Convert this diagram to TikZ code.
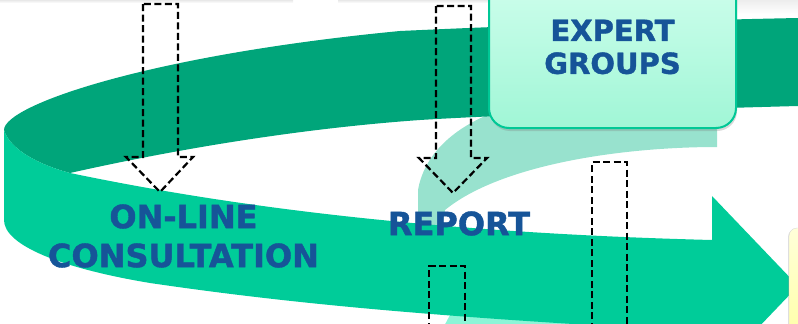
\documentclass[tikz,border=0pt]{standalone}
\usepackage{fontspec}
\setmainfont{DejaVu Sans}[BoldFeatures={FakeBold=1.3}]
\usetikzlibrary{shadows}
\definecolor{bandlight}{RGB}{0,204,153}
\definecolor{banddark}{RGB}{0,165,122}
\definecolor{swoosh}{RGB}{152,226,206}
\definecolor{aqua}{RGB}{140,245,215}
\definecolor{labelblue}{RGB}{22,84,152}
\definecolor{boxedge}{RGB}{0,200,150}
\begin{document}
\begin{tikzpicture}[x=1pt,y=-1pt,
    lbl/.style={text=labelblue,font=\bfseries\fontsize{32}{39}\selectfont,align=center,inner sep=0pt},
    dasharrow/.style={draw=black,line width=2.2pt,dash pattern=on 7pt off 3.5pt}]
  \useasboundingbox (0,0) rectangle (798,324);
  \begin{scope}
    \clip (0,0) rectangle (798,324);
    % shadows of the boxes above
    \shade[top color=black!9,bottom color=white] (0,0) rectangle (293,3);
    \shade[top color=black!9,bottom color=white] (338,0) rectangle (489,3);
    \shade[top color=black!7,bottom color=white] (736,0) rectangle (798,14);
    % swoosh behind the bands
    \fill[swoosh] (717,100) -- (717,147) .. controls (620,147) and (500,165) .. (445,210)
          -- (440,240) -- (418,240) -- (418,190)
          .. controls (425,150) and (460,125) .. (495,112) -- cycle;
    \fill[aqua] (442,330) -- (450,315) -- (600,315) -- (600,330) -- cycle;
    % back of the ring
    \fill[banddark] (4,130) .. controls (4,105) and (150,55) .. (400,31)
          .. controls (550,24) and (700,20) .. (798,18) -- (798,106)
          .. controls (650,110) and (500,115) .. (420,120)
          .. controls (280,130) and (150,155) .. (70,173)
          .. controls (40,165) and (10,150) .. (4,130) -- cycle;
    % front of the ring with the arrow head
    \fill[bandlight] (4,130) .. controls (10,150) and (40,165) .. (70,173)
          .. controls (200,200) and (400,232) .. (712,240)
          -- (712,196) -- (798,286) -- (712,376) -- (712,332)
          .. controls (450,318) and (300,305) .. (150,283)
          .. controls (60,268) and (4,245) .. (4,220) -- cycle;
    % next box on the right
    \draw[draw=black!15,top color=yellow!15,bottom color=yellow!45,rounded corners=8pt,
          drop shadow={opacity=0.25,shadow xshift=-1pt,shadow yshift=-1pt}]
          (789,228) rectangle (860,400);
    \node[draw=boxedge,line width=2pt,rounded corners=20pt,top color={rgb,255:red,210;green,255;blue,238},
          bottom color={rgb,255:red,160;green,246;blue,214},minimum width=247pt,minimum height=162pt,
          drop shadow={opacity=0.3,shadow xshift=1pt,shadow yshift=-3pt},
          text=labelblue,font=\bfseries\fontsize{29}{33}\selectfont,align=center,inner sep=0pt]
          (expert) at (612.5,47) {EXPERT\\GROUPS};
    \node[lbl] (online) at (183.5,236) {ON-LINE\\CONSULTATION};
    \node[lbl] (report) at (459,223.5) {REPORT};
    % dashed arrows
    \draw[dasharrow] (143,4) -- (143,157) -- (126,157) -- (160,192) -- (193,157)
          -- (178,157) -- (178,4) -- cycle;
    \draw[dasharrow] (436,6) -- (436,158) -- (419,158) -- (453,193) -- (487,158)
          -- (471,158) -- (471,6) -- cycle;
    \draw[dasharrow] (592,340) -- (592,162) -- (627,162) -- (627,340);
    \draw[dasharrow] (429,340) -- (429,266) -- (465,266) -- (465,340);
  \end{scope}
\end{tikzpicture}
\end{document}
